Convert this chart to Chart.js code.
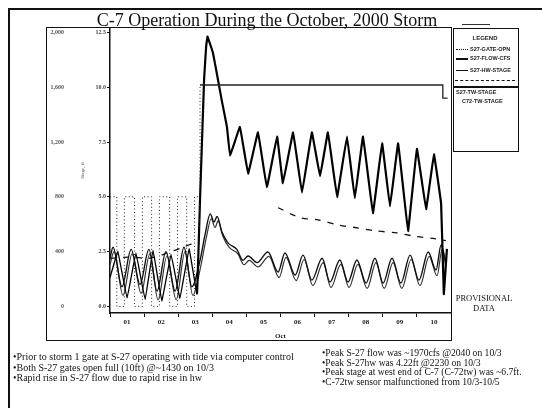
<!DOCTYPE html>
<html>
<head>
<meta charset="utf-8">
<script src="https://cdn.jsdelivr.net/npm/chart.js@4.4.1/dist/chart.umd.min.js"></script>
<style>
  body { margin:0; background:#fff; }
  #page { position:relative; width:542px; height:408px; overflow:hidden; background:#fff; }
  #page canvas { position:absolute; left:0; top:0; }
  .abs { position:absolute; }
  .serif { font-family:"Liberation Serif","Times New Roman",serif; color:#111; }
  .note { font-size:10px; line-height:10px; white-space:nowrap; }
  .leg { font-family:"Liberation Sans",Arial,sans-serif; font-size:5.5px; font-weight:bold; color:#222; white-space:nowrap; }
</style>
</head>
<body>
<div id="page">
  <canvas id="myChart" width="542" height="408"></canvas>

  <!-- outer frame -->
  <div class="abs" style="left:8px;top:8px;width:534px;height:2px;background:#111"></div>
  <div class="abs" style="left:8px;top:8px;width:2px;height:400px;background:#111"></div>
  <div class="abs" style="left:462px;top:24px;width:28px;height:1px;background:#333"></div>

  <!-- chart box -->
  <div class="abs" style="left:46px;top:27px;width:404px;height:312px;border:1.5px solid #111"></div>

  <div class="abs serif" style="left:0;top:11px;width:542px;text-align:center;font-size:18px;line-height:18px;">
    <span style="margin-left:-8px">C-7 Operation During the October, 2000 Storm</span>
  </div>

  <!-- legend box -->
  <div class="abs" style="left:453px;top:28px;width:64px;height:122px;border:1px solid #111"></div>
  <div class="abs leg" style="left:453px;top:35px;width:64px;text-align:center;font-size:6px">LEGEND</div>
  <div class="abs" style="left:456px;top:49px;width:12px;border-top:1px dotted #111"></div>
  <div class="abs leg" style="left:470px;top:46px">S27-GATE-OPN</div>
  <div class="abs" style="left:456px;top:58px;width:12px;border-top:2px solid #111"></div>
  <div class="abs leg" style="left:470px;top:55px">S27-FLOW-CFS</div>
  <div class="abs" style="left:456px;top:70px;width:12px;border-top:1px solid #111"></div>
  <div class="abs leg" style="left:470px;top:67px">S27-HW-STAGE</div>
  <div class="abs" style="left:455px;top:80px;width:60px;border-top:1px dashed #111"></div>
  <div class="abs" style="left:453px;top:86px;width:65px;height:1.5px;background:#111"></div>
  <div class="abs leg" style="left:456px;top:89px">S27-TW-STAGE</div>
  <div class="abs leg" style="left:462px;top:98px">C72-TW-STAGE</div>

  <div class="abs serif" style="left:451px;top:294px;width:66px;text-align:center;font-size:8.5px;line-height:9.5px;">PROVISIONAL<br>DATA</div>

  <!-- notes under the chart -->
  <div class="abs serif note" style="left:13px;top:352px;line-height:10.5px">
    •Prior to storm 1 gate at S-27 operating with tide via computer control<br>
    •Both S-27 gates open full (10ft) @~1430 on 10/3<br>
    •Rapid rise in S-27 flow due to rapid rise in hw
  </div>
  <div class="abs serif note" style="left:322px;top:348px;line-height:9.7px;font-size:9.6px">
    •Peak S-27 flow was ~1970cfs @2040 on 10/3<br>
    •Peak S-27hw was 4.22ft @2230 on 10/3<br>
    •Peak stage at west end of C-7 (C-72tw) was ~6.7ft.<br>
    •C-72tw sensor malfunctioned from 10/3-10/5
  </div>
</div>

<script>
// ******* DATA ******************
// days counted from 10/1 00:00

let dayLabels = ['01','02','03','04','05','06','07','08','09','10'];
let xTickVals = [0,0.5,1,1.5,2,2.5,3,3.5,4,4.5,5,5.5,6,6.5,7,7.5,8,8.5,9,9.5,10];
let stageTicks = [0, 2.5, 5, 7.5, 10, 12.5];
let flowTicks = [0, 400, 800, 1200, 1600, 2000];

// S-27 flow (cfs)
let flowDays = [0, 0.23, 0.50, 0.76, 1.03, 1.26, 1.52, 1.79, 2.05, 2.32, 2.55, 2.64, 2.76, 2.82, 2.86, 3.02, 3.17, 3.28, 3.43, 3.52,
  3.81, 4.05, 4.34, 4.60, 4.90, 5.07, 5.37, 5.63, 5.92, 6.16, 6.39, 6.66, 6.95, 7.18, 7.42, 7.71, 7.98, 8.21, 8.45, 8.74,
  9.00, 9.27, 9.50, 9.71, 9.79, 9.88];
let flowCfs = [210, 400, 60, 390, 50, 410, 40, 380, 60, 420, 90, 780, 1660, 1900, 1970, 1850, 1650, 1500, 1310, 1100,
  1310, 970, 1270, 870, 1240, 900, 1270, 830, 1270, 950, 1270, 800, 1240, 790, 1240, 680, 1190, 730, 1190, 550,
  1150, 710, 1110, 750, 90, 420];

// S-27 headwater stage (ft)
let hwDays = [0, 0.09, 0.35, 0.62, 0.88, 1.14, 1.38, 1.64, 1.91, 2.17, 2.40, 2.64, 2.79, 2.94, 3.05, 3.14, 3.28, 3.46, 3.72, 3.90,
  4.05, 4.31, 4.63, 4.93, 5.13, 5.43, 5.66, 5.92, 6.22, 6.45, 6.74, 6.98, 7.24, 7.51, 7.77, 8.01, 8.27, 8.53, 8.80, 9.06,
  9.33, 9.56, 9.71, 9.85];
let hwFt = [2.2, 2.7, 0.9, 2.6, 1.0, 2.6, 0.7, 2.5, 0.7, 2.7, 0.9, 2.1, 3.3, 4.22, 3.85, 4.1, 3.4, 2.9, 2.6, 2.1,
  2.3, 2.0, 2.48, 1.57, 2.44, 1.43, 2.34, 1.2, 2.2, 1.11, 2.12, 1.11, 2.12, 1.07, 2.2, 1.07, 2.2, 1.07, 2.34, 1.2,
  2.48, 1.66, 2.8, 2.0];

// S-27 tailwater stage (ft)
let twDays = [0, 0.12, 0.38, 0.65, 0.91, 1.17, 1.41, 1.67, 1.94, 2.20, 2.43, 2.67, 2.82, 2.97, 3.08, 3.17, 3.31, 3.49, 3.75, 3.93,
  4.08, 4.34, 4.66, 4.96, 5.16, 5.46, 5.69, 5.95, 6.25, 6.48, 6.77, 7.01, 7.27, 7.54, 7.80, 8.04, 8.30, 8.56, 8.83, 9.09,
  9.36, 9.59, 9.74, 9.85];
let twFt = [1.9, 2.5, 0.5, 2.4, 0.6, 2.4, 0.3, 2.3, 0.3, 2.5, 0.5, 1.9, 3.1, 4.0, 3.6, 3.9, 3.2, 2.7, 2.4, 1.9,
  2.1, 1.8, 2.28, 1.32, 2.24, 1.18, 2.14, 0.95, 2.0, 0.86, 1.92, 0.86, 1.92, 0.82, 2.0, 0.82, 2.0, 0.82, 2.14, 0.95,
  2.28, 1.4, 2.6, 1.8];

// C-72 tailwater stage (ft), sensor out 10/3-10/5
let c72Days = [0, 0.6, 1.17, 1.7, 2.14, 2.55, 2.7, 4.93, 5.57, 6.10, 6.74, 7.18, 7.77, 8.42, 8.94, 9.47, 9.85];
let c72Ft = [2.2, 2.25, 2.2, 2.45, 2.7, 2.95, null, 4.5, 4.05, 3.95, 3.7, 3.6, 3.45, 3.35, 3.2, 3.1, 3.0];

// S-27 gate opening (ft), each value held until the next day entry
let gateDays = [0, 0.2, 0.42, 0.72, 0.95, 1.22, 1.45, 1.75, 1.98, 2.25, 2.48, 2.64, 9.76, 9.9];
let gateFt = [5, 0, 5, 0, 5, 0, 5, 0, 5, 0, 5, 10.1, 9.5, 9.5];


//////////////////////////////////////////////////////////////////////////
// zip the day/value lists into points for chart.js
//////////////////////////////////////////////////////////////////////////
function toPoints(days, vals){
  let out = [];
  for(let i = 0; i < days.length; i++){
    out.push({ x: days[i], y: vals[i] });
  }
  return out;
}

const tickFont = { family: 'Liberation Serif', size: 7, weight: 'bold' };

const data = {
  datasets: [
    {
      label: 'S27-GATE-OPN',
      data: toPoints(gateDays, gateFt),
      yAxisID: 'y',
      borderColor: '#222',
      borderWidth: 1.3,
      stepped: 'before',   // hold previous value, then jump
      pointRadius: 0,
      segment: {
        borderDash: ctx => ctx.p0.parsed.x < 2.6 ? [1, 2.5] : undefined,
        borderWidth: ctx => ctx.p0.parsed.x < 2.6 ? 1 : undefined
      }
    },
    {
      label: 'S27-FLOW-CFS',
      data: toPoints(flowDays, flowCfs),
      yAxisID: 'flow',
      borderColor: '#000',
      borderWidth: 2.2,
      tension: 0.05,
      pointRadius: 0,
      segment: {
        borderWidth: ctx => ctx.p0.parsed.x < 2.5 ? 1.3 : undefined
      }
    },
    {
      label: 'S27-HW-STAGE',
      data: toPoints(hwDays, hwFt),
      yAxisID: 'y',
      borderColor: '#111',
      borderWidth: 1.4,
      cubicInterpolationMode: 'monotone',
      pointRadius: 0
    },
    {
      label: 'S27-TW-STAGE',
      data: toPoints(twDays, twFt),
      yAxisID: 'y',
      borderColor: '#333',
      borderWidth: 1.2,
      cubicInterpolationMode: 'monotone',
      pointRadius: 0
    },
    {
      label: 'C72-TW-STAGE',
      data: toPoints(c72Days, c72Ft),
      yAxisID: 'y',
      borderColor: '#111',
      borderWidth: 1.3,
      borderDash: [6, 7],
      spanGaps: false,
      tension: 0.3,
      pointRadius: 0
    }
  ]
};

const config = {
  type: 'line',
  data: data,
  options: {
    responsive: false,
    animation: false,
    devicePixelRatio: 1,
    layout: { padding: { left: 47, right: 91, top: 28, bottom: 68 } },
    plugins: { legend: { display: false }, tooltip: { enabled: false } },
    scales: {
      x: {
        type: 'linear',
        min: 0,
        max: 10,
        afterBuildTicks: axis => { axis.ticks = xTickVals.map(v => ({ value: v })); },
        afterFit: axis => { axis.height = 27; },
        border: { color: '#111', width: 1.5 },
        grid: {
          drawOnChartArea: false,
          tickLength: 4,
          tickColor: ctx => (ctx.tick && ctx.tick.value % 1 === 0) ? '#111' : 'rgba(0,0,0,0)'
        },
        ticks: {
          autoSkip: false,
          maxRotation: 0,
          padding: 1,
          color: '#222',
          font: tickFont,
          callback: v => (v % 1 === 0.5) ? dayLabels[Math.floor(v)] : ''
        },
        title: { display: true, text: 'Oct', color: '#222', font: tickFont, padding: 0 }
      },
      y: {
        position: 'left',
        weight: 0,
        min: -0.3,
        max: 12.7,
        afterBuildTicks: axis => { axis.ticks = stageTicks.map(v => ({ value: v })); },
        afterFit: axis => { axis.width = 30; },
        border: { color: '#111', width: 1.5 },
        grid: { drawOnChartArea: false, tickLength: 3, tickColor: '#111' },
        ticks: { padding: 1, color: '#444', font: { family: 'Liberation Serif', size: 6, weight: 'bold' },
          callback: v => v.toFixed(1) },
        title: { display: true, text: 'Stage, ft', color: '#555', font: { family: 'Liberation Serif', size: 5 }, padding: 0 }
      },
      flow: {
        position: 'left',
        weight: 1,
        min: -48,
        max: 2032,
        afterBuildTicks: axis => { axis.ticks = flowTicks.map(v => ({ value: v })); },
        afterFit: axis => { axis.width = 33; },
        border: { display: false },
        grid: { display: false },
        ticks: { padding: 8, color: '#555', font: { family: 'Liberation Serif', size: 6, weight: 'bold' } }
      }
    }
  }
};

let canvasChart = document.getElementById('myChart');
const myChart = new Chart(canvasChart, config);
</script>
</body>
</html>
